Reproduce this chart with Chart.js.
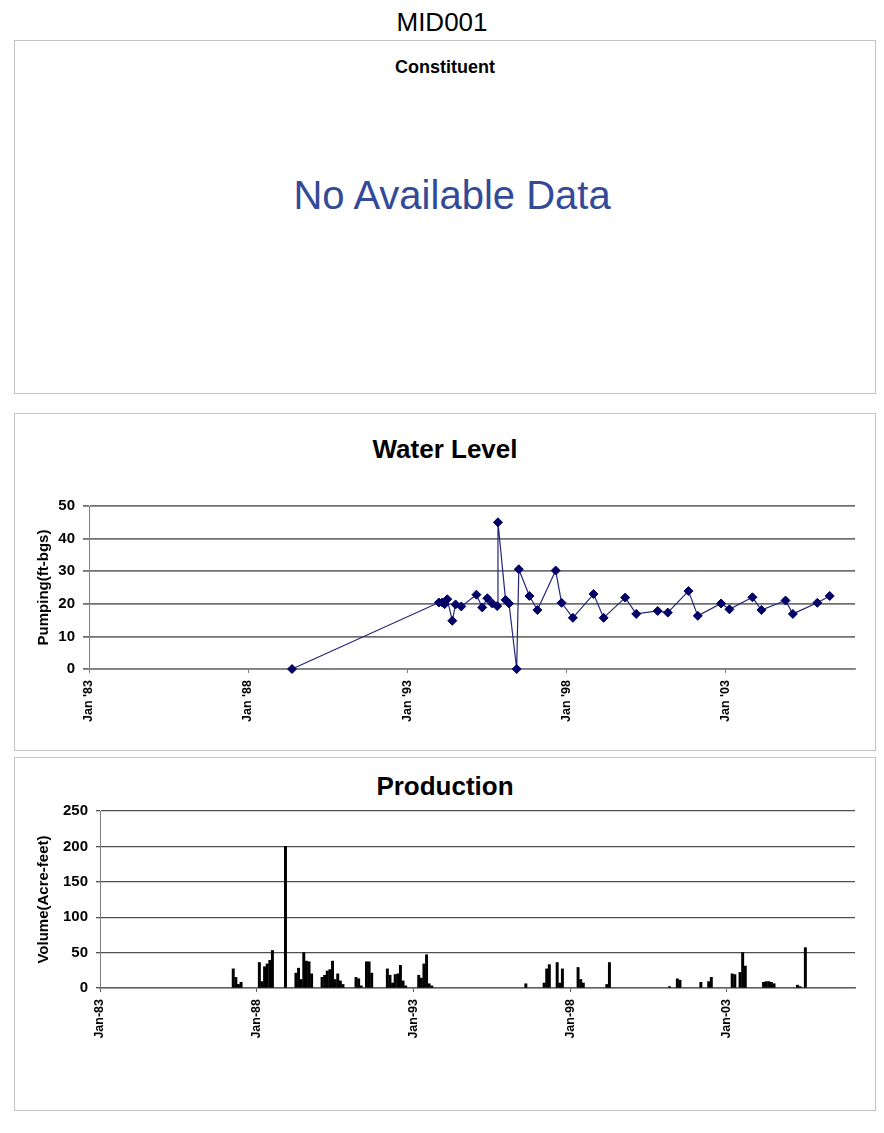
<!DOCTYPE html>
<html><head><meta charset="utf-8">
<script src="https://cdn.jsdelivr.net/npm/chart.js@4.4.0/dist/chart.umd.min.js"></script>
<style>
html,body{margin:0;padding:0;background:#fff;}
body{width:884px;height:1133px;position:relative;font-family:"Liberation Sans",Arial,sans-serif;overflow:hidden;}
.panel{position:absolute;left:14px;width:862px;border:1px solid #c4c4c4;box-sizing:border-box;background:#fff;}
.t{position:absolute;white-space:nowrap;text-align:center;color:#000;}
.cw{position:absolute;left:15px;width:859px;}
</style></head><body>
<div class="t" style="left:0;width:884px;top:7px;font-size:26px;line-height:30px;">MID001</div>
<div class="panel" style="top:40px;height:354px;"></div>
<div class="t" style="left:14px;width:862px;top:57px;font-size:18px;line-height:20px;font-weight:bold;">Constituent</div>
<div class="t" style="left:0;width:904px;top:172px;font-size:40px;line-height:46px;color:#334a99;">No Available Data</div>

<div class="panel" style="top:413px;height:338px;"></div>
<div class="t" style="left:14px;width:862px;top:434px;font-size:26px;line-height:30px;font-weight:bold;">Water Level</div>
<div class="cw" style="top:414px;height:335px;"><canvas id="wl" width="859" height="335"></canvas></div>

<div class="panel" style="top:757px;height:354px;"></div>
<div class="t" style="left:14px;width:862px;top:771px;font-size:26px;line-height:30px;font-weight:bold;">Production</div>
<div class="cw" style="top:758px;height:351px;"><canvas id="prod" width="859" height="351"></canvas></div>

<script>
// ---- data ----
const xTickMonths = [0, 60, 120, 180, 240];
const wlTickLabels = ["Jan '83", "Jan '88", "Jan '93", "Jan '98", "Jan '03"];
const prodTickLabels = ["Jan-83", "Jan-88", "Jan-93", "Jan-98", "Jan-03"];

const wlDates = ["1989-05-19","1994-01-01","1994-02-10","1994-03-06","1994-04-06","1994-06-03","1994-07-10","1994-09-15",
  "1995-03-06","1995-05-12","1995-07-10","1995-09-06","1995-11-01","1995-11-10",
  "1996-02-06","1996-03-15","1996-06-12","1996-07-06","1996-11-06","1997-02-06",
  "1997-09-03","1997-11-10","1998-03-18","1998-11-12","1999-03-06","1999-11-10",
  "2000-03-15","2000-11-18","2001-03-12","2001-11-06","2002-02-22","2002-11-15",
  "2003-02-20","2003-11-10","2004-02-22","2004-11-25","2005-02-18","2005-11-25","2006-04-15"];
const wlValues = [0,20.4,20.4,19.9,21.4,14.8,19.8,19.2,
  22.8,18.9,21.7,20.1,19.3,45.0,
  21.2,20.1,0,30.6,22.4,18.1,
  30.2,20.3,15.7,23.0,15.7,21.9,
  16.9,17.8,17.3,23.9,16.3,20.1,
  18.3,22.0,18.1,21.0,16.9,20.3,22.4];

const prodMonths = ["1987-04","1987-05","1987-06","1987-07",
  "1988-02","1988-03","1988-04","1988-05","1988-06","1988-07",
  "1988-12",
  "1989-04","1989-05","1989-06","1989-07","1989-08","1989-09","1989-10",
  "1990-02","1990-03","1990-04","1990-05","1990-06","1990-07","1990-08","1990-09","1990-10",
  "1991-03","1991-04","1991-05","1991-07","1991-08","1991-09",
  "1992-03","1992-04","1992-05","1992-06","1992-07","1992-08","1992-09","1992-10",
  "1993-03","1993-04","1993-05","1993-06","1993-07","1993-08",
  "1996-08",
  "1997-03","1997-04","1997-05",
  "1997-08","1997-09","1997-10",
  "1998-04","1998-05","1998-06",
  "1999-03","1999-04",
  "2001-03",
  "2001-06","2001-07",
  "2002-03",
  "2002-06","2002-07",
  "2003-03","2003-04",
  "2003-06","2003-07","2003-08",
  "2004-03","2004-04","2004-05","2004-06","2004-07",
  "2005-04","2005-05",
  "2005-07"];
const prodValues = [27,15,5,8,
  36,9,30,34,39,53,
  200,
  21,28,12,50,38,37,20,
  15,18,24,26,38,12,20,10,5,
  15,13,3,37,37,21,
  27,18,7,19,20,32,10,3,
  18,14,34,47,6,3,
  6,
  7,27,33,
  36,7,27,
  29,12,7,
  5,36,
  2,
  13,11,
  8,
  9,15,
  20,19,
  22,50,31,
  8,9,9,8,6,
  4,2,
  57];

// ---- helpers ----
function monthsSince(s){ const p=s.split('-').map(Number); return (p[0]-1983)*12+(p[1]-1)+((p[2]||1)-1)/30.44; }
const FAM = '"Liberation Sans", Arial, sans-serif';
const X_MAX = 289;

function xAxis(labels, axisHeight, gridColor){
  return {
    type:'linear', min:0, max:X_MAX, offset:false,
    afterBuildTicks: s => { s.ticks = xTickMonths.map(v => ({value:v})); },
    afterFit: s => { s.height = axisHeight; },
    ticks:{autoSkip:false, maxRotation:90, minRotation:90, padding:7, color:'#000',
      font:{family:FAM, size:12.5, weight:'bold'},
      callback:(v)=>{ const i = xTickMonths.indexOf(v); return i>=0 ? labels[i] : ''; }},
    grid:{drawOnChartArea:false, drawTicks:true, tickLength:4, color:gridColor, lineWidth:1, offset:false},
    border:{display:true, color:gridColor, width:1.5}
  };
}
function yAxis(max, step, axisWidth, title, gridColor, gridWidth, tickLen){
  return {
    min:0, max:max,
    afterFit: s => { s.width = axisWidth; },
    ticks:{stepSize:step, padding:8, color:'#000', font:{family:FAM, size:15, weight:'bold'}},
    grid:{color:gridColor, lineWidth:gridWidth, drawTicks:true, tickLength:tickLen},
    border:{display:true, color:'#808080', width:1},
    title:{display:true, text:title, color:'#000', font:{family:FAM, size:15, weight:'bold'}, padding:{top:20, bottom:0}}
  };
}

new Chart(document.getElementById('wl'), {
  type:'line',
  data:{datasets:[{
    data: wlDates.map((d,i)=>({x:monthsSince(d), y:wlValues[i]})),
    borderColor:'#25257a', borderWidth:1.2, tension:0, fill:false, clip:false,
    pointStyle:'rectRot', pointRadius:4.5, pointBackgroundColor:'#000066', pointBorderColor:'#000066', pointBorderWidth:1
  }]},
  options:{
    responsive:false, animation:false, devicePixelRatio:1,
    layout:{padding:{top:92, right:19, bottom:0, left:0}},
    plugins:{legend:{display:false}, tooltip:{enabled:false}, title:{display:false}},
    scales:{
      x: xAxis(wlTickLabels, 80, '#808080'),
      y: yAxis(50, 10, 74, 'Pumping(ft-bgs)', '#707070', 1.8, 6)
    }
  }
});

new Chart(document.getElementById('prod'), {
  type:'bar',
  data:{datasets:[{
    data: prodMonths.map((d,i)=>({x:monthsSince(d), y:prodValues[i]})),
    backgroundColor:'#000', borderWidth:0, barThickness:2.3
  }]},
  options:{
    responsive:false, animation:false, devicePixelRatio:1,
    layout:{padding:{top:53, right:19, bottom:0, left:0}},
    plugins:{legend:{display:false}, tooltip:{enabled:false}, title:{display:false}},
    scales:{
      x: xAxis(prodTickLabels, 121, '#606060'),
      y: yAxis(250, 50, 85, 'Volume(Acre-feet)', '#505050', 1.3, 4)
    }
  }
});
</script>
</body></html>
